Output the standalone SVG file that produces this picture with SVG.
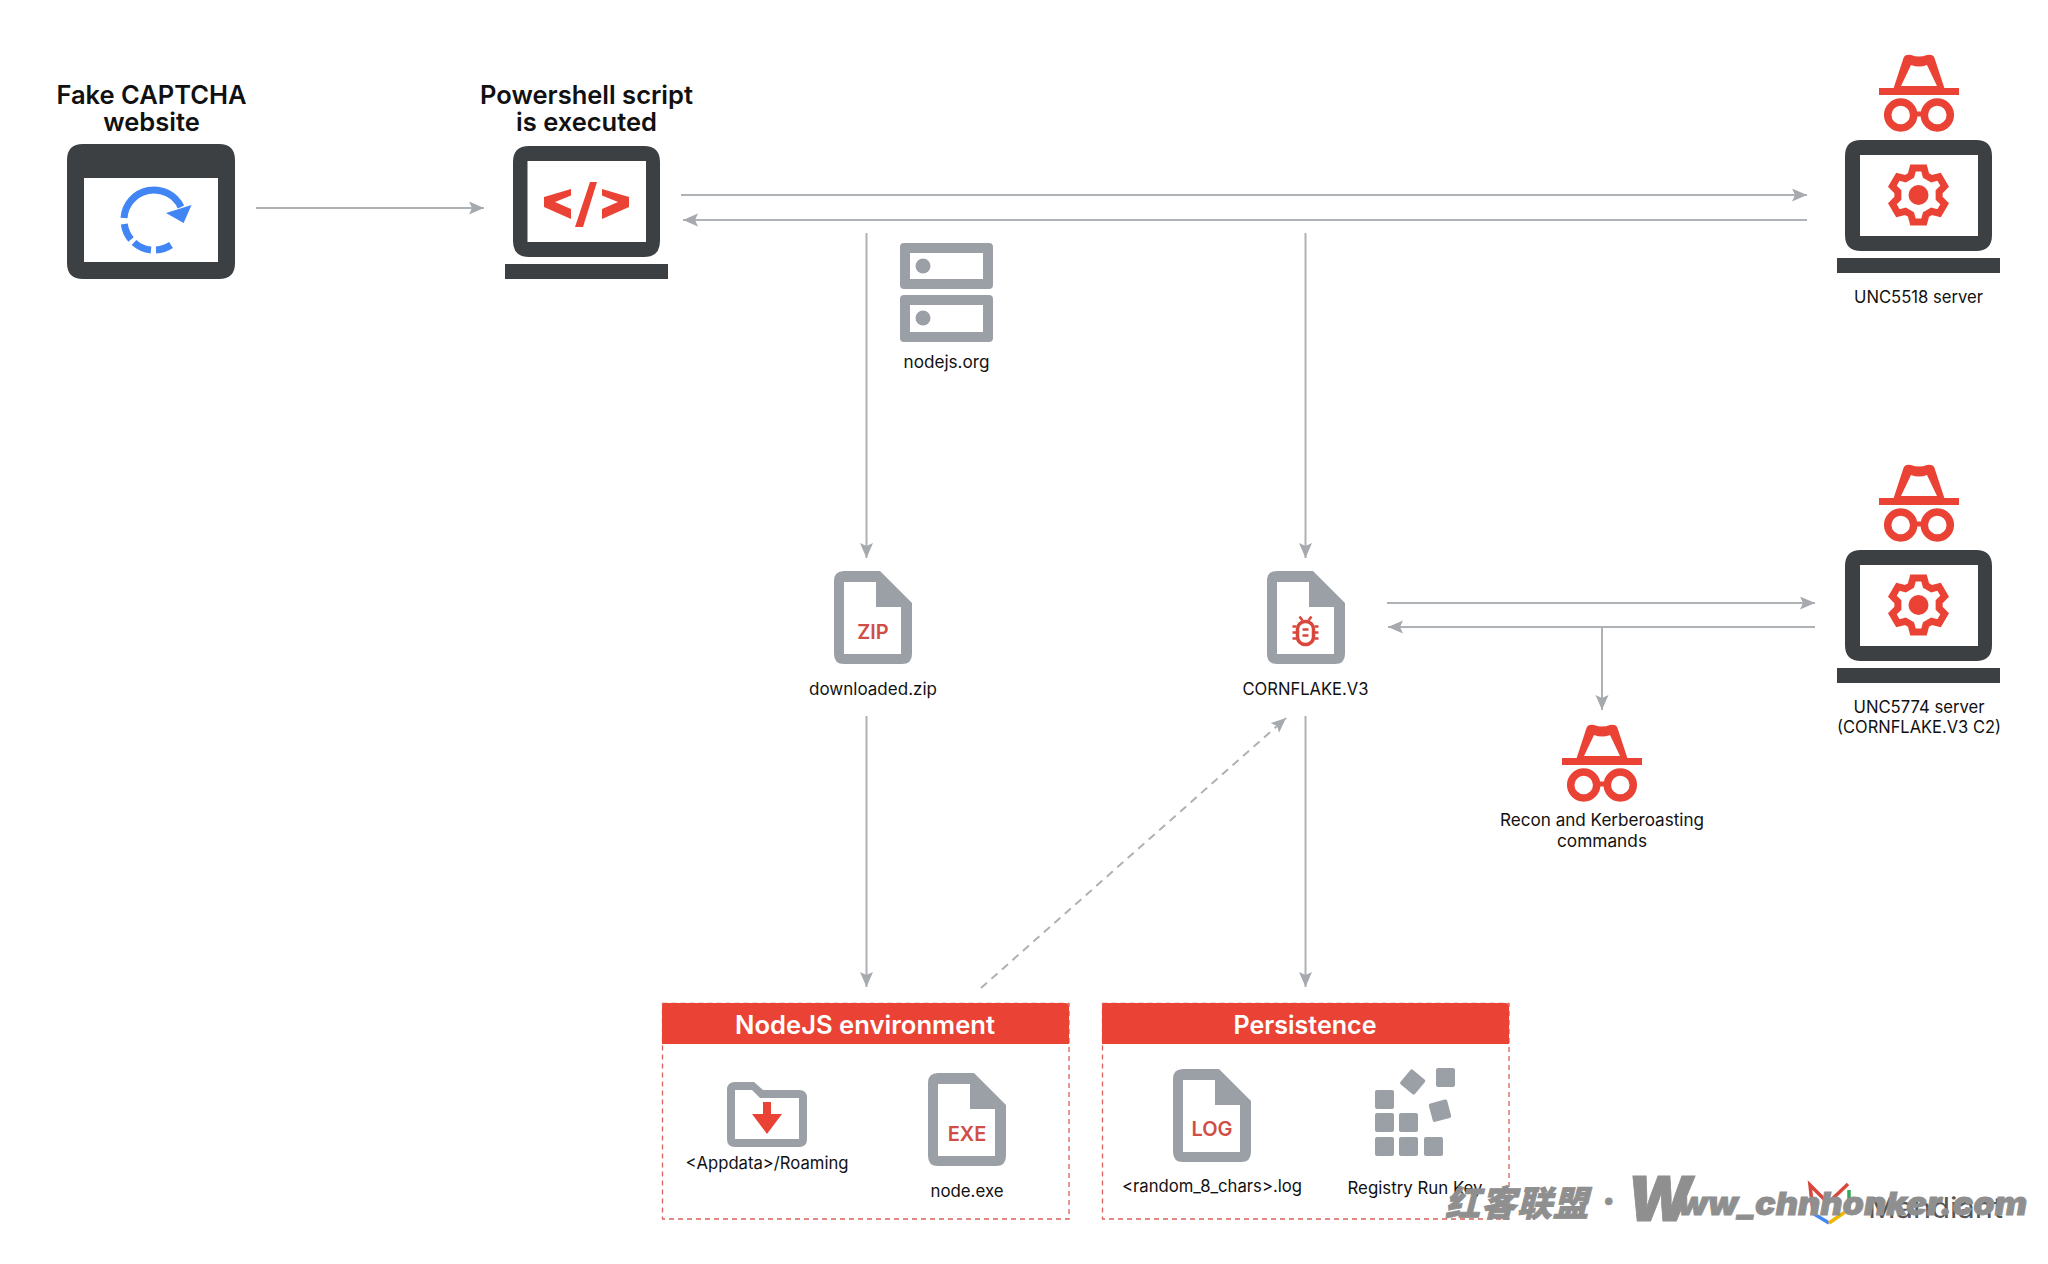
<svg xmlns="http://www.w3.org/2000/svg" xmlns:xlink="http://www.w3.org/1999/xlink" width="2048" height="1264" viewBox="0 0 2048 1264">
<style>
text{font-family:"Inter","Noto Sans",sans-serif;text-anchor:middle;fill:#111}
.h{font-size:25.500px;font-weight:600}
.l{font-size:17px}
.t{font-size:25.500px;font-weight:600;fill:#fff}
.x{font-size:20px;font-weight:600;fill:#cf4f47}
.cn{stroke:#aeb1b5;stroke-width:2;fill:none;marker-end:url(#ah)}
.dk{fill:#3c4043}.gy{fill:#9aa0a6}.rd{fill:#ea4335}
.box{fill:none;stroke:#d9625a;stroke-width:1.3;stroke-dasharray:5 4}
.wm{fill:#8f8f8f;font-style:italic;font-weight:900;text-anchor:start;stroke:#8f8f8f;stroke-width:.8px}
</style>
<defs>
<marker id="ah" markerUnits="userSpaceOnUse" markerWidth="16" markerHeight="14" refX="15" refY="6.500" orient="auto"><path d="M0,0 L15,6.500 L0,13 L3,6.500Z" fill="#a6a9ad"/></marker>
<path id="file" class="gy" fill-rule="evenodd" d="M10,0H46L78,32V83Q78,93 68,93H10Q0,93 0,83V10Q0,0 10,0ZM10,11V83H67V36H42V11Z"/>
<g id="spy" class="rd">
<rect x="-40" y="0" width="80" height="7"/>
<path fill-rule="evenodd" d="M-26,2L-15.500,-30Q-14,-34 -8,-33Q0,-30 8,-33Q14,-34 15.500,-30L26,2ZM-18,-2H18L8,-23Q0,-20 -8,-23Z"/>
<circle cx="-18.300" cy="27" r="13" fill="none" stroke="#ea4335" stroke-width="7.500"/>
<circle cx="18.300" cy="27" r="13" fill="none" stroke="#ea4335" stroke-width="7.500"/>
<rect x="-6" y="23.500" width="12" height="5"/>
</g>
<g id="srv">
<path class="dk" fill-rule="evenodd" d="M1861,140H1976Q1992,140 1992,156V235Q1992,251 1976,251H1861Q1845,251 1845,235V156Q1845,140 1861,140ZM1860,155V236H1978V155Z"/>
<rect class="dk" x="1837" y="258" width="163" height="15"/>
<g transform="translate(1918.500 195)">
<path fill="none" stroke="#ea4335" stroke-width="7" stroke-linejoin="miter" d="M-7.500,-19.500L-5.500,-27H5.500L7.500,-19.500L13.140,-16.250L20.630,-18.260L26.130,-8.740L20.640,-3.250V3.250L26.130,8.740L20.630,18.260L13.140,16.250L7.500,19.500L5.500,27H-5.500L-7.500,19.500L-13.140,16.250L-20.630,18.260L-26.130,8.740L-20.640,3.250V-3.250L-26.130,-8.740L-20.630,-18.260L-13.140,-16.250Z"/>
<circle r="10" class="rd"/>
</g>
</g>
</defs>
<rect width="2048" height="1264" fill="#fff"/>
<g id="connectors">
<path class="cn" d="M256,208H484"/>
<path class="cn" d="M681,195H1807"/>
<path class="cn" d="M1807,220H683"/>
<path class="cn" d="M866.500,233V558"/>
<path class="cn" d="M1305.500,233V558"/>
<path class="cn" d="M866.500,716V987"/>
<path class="cn" d="M1305.500,716V987"/>
<path class="cn" d="M1387,603H1815"/>
<path class="cn" d="M1815,627H1388"/>
<path class="cn" d="M1602,627V710"/>
<path class="cn" stroke-dasharray="8 6" d="M981,988L1286,718"/>
</g>
<g id="fake-captcha">
<text class="h" x="151.500" y="104">Fake CAPTCHA</text>
<text class="h" x="151.500" y="131">website</text>
<path class="dk" fill-rule="evenodd" d="M83,144H219Q235,144 235,160V263Q235,279 219,279H83Q67,279 67,263V160Q67,144 83,144ZM84,178V262H218V178Z"/>
<g fill="none" stroke="#4285f4" stroke-width="7">
<path d="M124,218A30,30 0 0 1 181,207"/>
<path d="M124.300,224A30,30 0 0 0 131,239.500"/>
<path d="M134,242.500A30,30 0 0 0 151,250"/>
<path d="M156,250A30,30 0 0 0 171,245"/>
</g>
<path fill="#4285f4" d="M191.500,205L183.600,223L166,213Z"/>
</g>
<g id="powershell">
<text class="h" x="586.500" y="104">Powershell script</text>
<text class="h" x="586.500" y="131">is executed</text>
<path class="dk" fill-rule="evenodd" d="M529,146H644Q660,146 660,162V241Q660,257 644,257H529Q513,257 513,241V162Q513,146 529,146ZM527.500,161V242H646V161Z"/>
<rect class="dk" x="505" y="264" width="163" height="15"/>
<path class="rd" d="M571,189V195.500L555,202L571,209V219L544,207V197Z"/>
<path class="rd" d="M590,182H597L583,227H575Z"/>
<path class="rd" d="M602,189V195.500L618,202L602,209V219L629,207V197Z"/>
</g>
<g id="unc5518">
<use href="#spy" xlink:href="#spy" x="1919" y="88"/>
<use href="#srv" xlink:href="#srv"/>
<text class="l" x="1918.500" y="303" textLength="129" lengthAdjust="spacingAndGlyphs">UNC5518 server</text>
</g>
<g id="nodejs">
<path class="gy" fill-rule="evenodd" d="M904,243H989Q993,243 993,247V285Q993,289 989,289H904Q900,289 900,285V247Q900,243 904,243ZM910,253V279H983V253Z"/>
<path class="gy" fill-rule="evenodd" d="M904,295H989Q993,295 993,299V338Q993,342 989,342H904Q900,342 900,338V299Q900,295 904,295ZM910,305V332H983V305Z"/>
<circle class="gy" cx="923" cy="266" r="7.500"/>
<circle class="gy" cx="923" cy="318" r="7.500"/>
<text class="l" x="946.500" y="368" textLength="86" lengthAdjust="spacingAndGlyphs">nodejs.org</text>
</g>
<g id="downloaded-zip">
<use href="#file" xlink:href="#file" x="834" y="571"/>
<text class="x" x="873" y="639">ZIP</text>
<text class="l" x="873" y="695" textLength="128" lengthAdjust="spacingAndGlyphs">downloaded.zip</text>
</g>
<g id="cornflake">
<use href="#file" xlink:href="#file" x="1267" y="571"/>
<g transform="translate(1305.500 632.500)" fill="none" stroke="#d9463c" stroke-width="3.500">
<rect x="-8" y="-11" width="16" height="23" rx="7.500"/>
<path stroke-width="2.500" d="M-13,-6H-9M-13,0H-9M-13,6H-9M13,-6H9M13,0H9M13,6H9M-6,-16L-3,-12M6,-16L3,-12M-3,-3H3M-3,3H3"/>
</g>
<text class="l" x="1305.500" y="695" textLength="126" lengthAdjust="spacingAndGlyphs">CORNFLAKE.V3</text>
</g>
<g id="unc5774">
<use href="#spy" xlink:href="#spy" x="1919" y="498"/>
<use href="#srv" xlink:href="#srv" y="410"/>
<text class="l" x="1919" y="713" textLength="131" lengthAdjust="spacingAndGlyphs">UNC5774 server</text>
<text class="l" x="1919" y="733" textLength="164" lengthAdjust="spacingAndGlyphs">(CORNFLAKE.V3 C2)</text>
</g>
<g id="recon">
<use href="#spy" xlink:href="#spy" x="1602" y="758"/>
<text class="l" x="1602" y="826" textLength="204" lengthAdjust="spacingAndGlyphs">Recon and Kerberoasting</text>
<text class="l" x="1602" y="847" textLength="90" lengthAdjust="spacingAndGlyphs">commands</text>
</g>
<g id="nodejs-env">
<rect class="box" x="662.500" y="1003.500" width="406.500" height="215.500"/>
<path class="rd" d="M666,1003H1065Q1069,1003 1069,1007V1044H662V1007Q662,1003 666,1003Z"/>
<text class="t" x="865" y="1034" textLength="260" lengthAdjust="spacingAndGlyphs">NodeJS environment</text>
<path class="gy" fill-rule="evenodd" d="M735,1082H754L763,1090H799Q807,1090 807,1098V1139Q807,1147 799,1147H735Q727,1147 727,1139V1090Q727,1082 735,1082ZM735,1098V1139H799V1098H760L752,1090H735Z"/>
<path class="rd" d="M763,1102H771V1114H782L767,1134L752,1114H763Z"/>
<text class="l" x="767" y="1169" textLength="163" lengthAdjust="spacingAndGlyphs">&lt;Appdata&gt;/Roaming</text>
<use href="#file" xlink:href="#file" x="928" y="1073"/>
<text class="x" x="967" y="1141">EXE</text>
<text class="l" x="967" y="1197" textLength="73" lengthAdjust="spacingAndGlyphs">node.exe</text>
</g>
<g id="persistence">
<rect class="box" x="1102.500" y="1003.500" width="406.500" height="215.500"/>
<path class="rd" d="M1106,1003H1505Q1509,1003 1509,1007V1044H1102V1007Q1102,1003 1106,1003Z"/>
<text class="t" x="1305" y="1034" textLength="143" lengthAdjust="spacingAndGlyphs">Persistence</text>
<use href="#file" xlink:href="#file" x="1173" y="1069"/>
<text class="x" x="1212" y="1136">LOG</text>
<text class="l" x="1212" y="1192" textLength="180" lengthAdjust="spacingAndGlyphs">&lt;random_8_chars&gt;.log</text>
<g class="gy">
<rect x="1375" y="1090" width="19" height="19" rx="2"/>
<rect x="1375" y="1113" width="19" height="19" rx="2"/>
<rect x="1399" y="1113" width="19" height="19" rx="2"/>
<rect x="1375" y="1137" width="19" height="19" rx="2"/>
<rect x="1399" y="1137" width="19" height="19" rx="2"/>
<rect x="1424" y="1137" width="19" height="19" rx="2"/>
<rect x="1436" y="1068" width="19" height="19" rx="2"/>
<rect x="-9.500" y="-9.500" width="19" height="19" rx="2" transform="translate(1412.700 1082) rotate(40)"/>
<rect x="-9.500" y="-9.500" width="19" height="19" rx="2" transform="translate(1440 1110.700) rotate(-15)"/>
</g>
<text class="l" x="1415" y="1194" textLength="135" lengthAdjust="spacingAndGlyphs">Registry Run Key</text>
</g>
<g id="mandiant" fill="none" stroke-width="3.500">
<path stroke="#d9463c" d="M1813,1212L1810,1185L1828,1203L1848,1184"/>
<path stroke="#34a853" d="M1849,1190V1208"/>
<path stroke="#4285f4" d="M1814,1214L1829,1223"/>
<path stroke="#f4b400" d="M1829,1223L1848,1210"/>
<text x="1868" y="1218" style="font-size:28px;fill:#555;text-anchor:start;stroke:none" textLength="135" lengthAdjust="spacingAndGlyphs">Mandiant</text>
</g>
<g id="watermark">
<text class="wm" x="1445" y="1216" style="font-size:35px;font-family:'Noto Sans CJK SC',sans-serif" textLength="143">红客联盟</text>
<text class="wm" x="1602" y="1213" style="font-size:34px">·</text>
<text class="wm" x="1627" y="1221" style="font-size:62px" textLength="65" lengthAdjust="spacingAndGlyphs">W</text>
<text class="wm" x="1678" y="1215" style="font-size:32px" textLength="349" lengthAdjust="spacingAndGlyphs">ww_chnhonker.com</text>
</g>
</svg>
